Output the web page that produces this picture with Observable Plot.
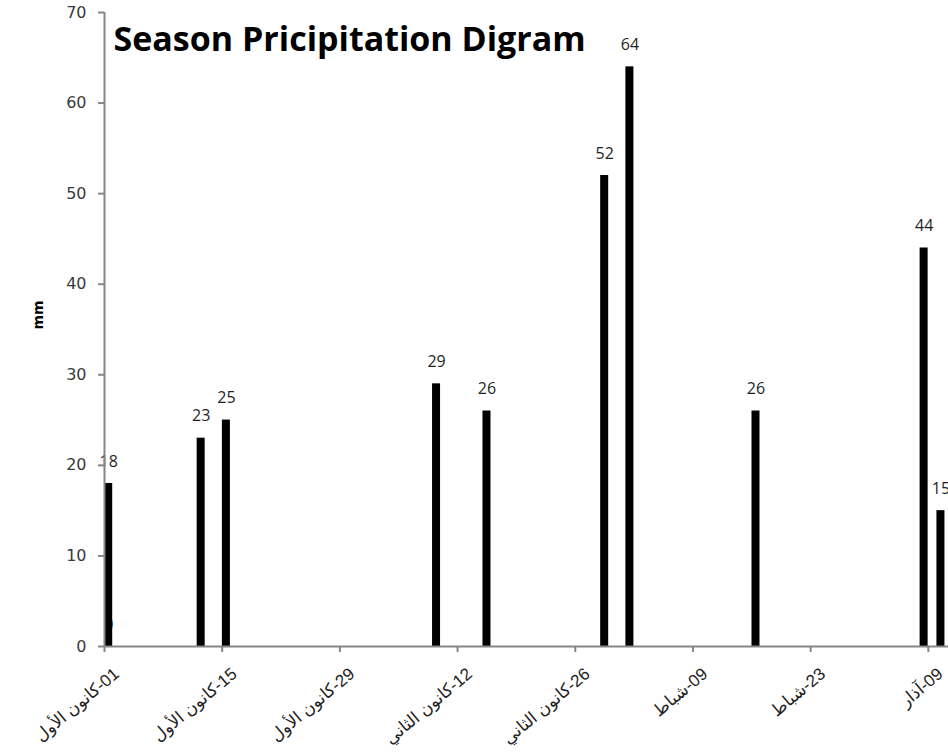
<!DOCTYPE html>
<html><head><meta charset="utf-8">
<script src="https://cdn.jsdelivr.net/npm/d3@7"></script>
<script src="https://cdn.jsdelivr.net/npm/@observablehq/plot@0.6"></script>
<style>body{margin:0;background:#fff}</style>
</head><body><div id="chart"></div>
<script>
const title = "Season Pricipitation Digram";
const yLabel = "mm";
const dates = ["2010-12-01","2010-12-12","2010-12-15","2011-01-09","2011-01-15","2011-01-29","2011-02-01","2011-02-16","2011-03-08","2011-03-10"];
const values = [18,23,25,29,26,52,64,26,44,15];
const zeroDates = ["2010-12-01"];
const zeroValues = [0];
const tickDates = ["2010-12-01","2010-12-15","2010-12-29","2011-01-12","2011-01-26","2011-02-09","2011-02-23","2011-03-09"];
const tickLabels = ["01-كانون الأول","15-كانون الأول","29-كانون الأول","12-كانون الثاني","26-كانون الثاني","09-شباط","23-شباط","09-آذار"];
const yTicks = [0,10,20,30,40,50,60,70];
const xStart = "2010-12-01";
const xEnd = "2011-03-11T09:36:00Z";

const data = dates.map((d,i)=>({date:new Date(d), value:values[i]}));
const zeros = zeroDates.map((d,i)=>({date:new Date(d), value:zeroValues[i]}));
const ticks = tickDates.map((d,i)=>({date:new Date(d), label:tickLabels[i]}));
const mid = d => new Date(+d.date + 12*3600e3);
const gray = "#868686";

const chart = Plot.plot({
  width: 948, height: 754,
  marginLeft: 104, marginTop: 12, marginBottom: 108, marginRight: 0,
  style: {background:"#fff", overflow:"visible"},
  x: {type:"utc", domain:[new Date(xStart), new Date(xEnd)]},
  y: {domain:[0,70]},
  marks: [
    Plot.text(zeros, {x: mid, y:"value", text: d=>String(d.value), dy:-22, fontSize:16, fontFamily:"Open Sans", fill:"#1f1f1f"}),
    Plot.rectY(data, {x:"date", y:"value", interval:"day", fill:"#000", insetLeft:0.2, insetRight:0.2}),
    Plot.text(data, {x: mid, y:"value", text: d=>String(d.value), dy:-22, fontSize:16, fontFamily:"Open Sans", fill:"#1f1f1f"}),
    Plot.ruleY([0], {stroke:gray, strokeWidth:2}),
    Plot.ruleX([new Date(xStart)], {stroke:gray, strokeWidth:2}),
    Plot.axisY({ticks:yTicks, tickSize:6, tickPadding:12, stroke:gray, strokeWidth:2, fill:"#3a3a3a", fontSize:16, fontFamily:"DejaVu Sans", label:null}),
    Plot.axisX({ticks:ticks.map(t=>t.date), tickSize:6, stroke:gray, strokeWidth:2, tickFormat: () => "", label:null}),
    Plot.text(ticks, {x:"date", frameAnchor:"bottom", text: d => "\u2067" + d.label + "\u2069", rotate:-40, textAnchor:"end", lineAnchor:"top", dx:8, dy:20, fill:"#222", fontSize:17, fontFamily:"Arial, Liberation Sans, DejaVu Sans"}),
    Plot.text([yLabel], {frameAnchor:"left", dx:-66, rotate:-90, fontSize:14, fontWeight:"bold", fontFamily:"DejaVu Sans", fill:"#000"}),
    Plot.text([title], {frameAnchor:"top-left", dx:9, dy:14, textAnchor:"start", lineAnchor:"top", fontSize:34, fontWeight:"bold", fontFamily:"Open Sans", fill:"#000"})
  ]
});
document.getElementById("chart").appendChild(chart);
</script>
</body></html>
